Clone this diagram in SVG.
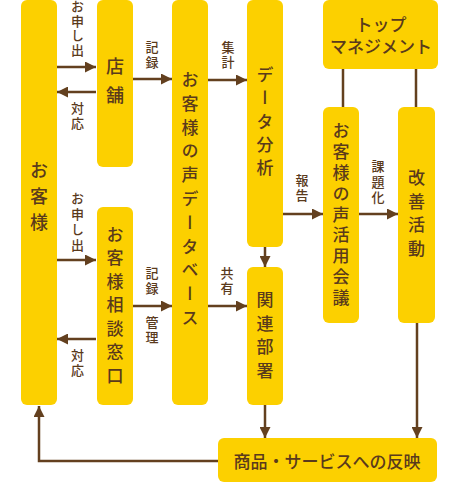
<svg xmlns="http://www.w3.org/2000/svg" width="459" height="483" viewBox="0 0 459 483">
<style>
.box{fill:#FCD000}
.nt{font-family:"Noto Sans CJK JP","Noto Sans CJK SC",sans-serif;font-size:17px;font-weight:500;fill:#5A3A1C}
.v{writing-mode:vertical-rl}
.lb{font-family:"Noto Sans CJK JP","Noto Sans CJK SC",sans-serif;font-size:13px;font-weight:500;fill:#5A3A1C;writing-mode:vertical-rl;letter-spacing:1.5px}
.c{fill:none;stroke:#63401F;stroke-width:2.5}
</style>
<defs>
<marker id="ah" viewBox="0 0 10 10" refX="10" refY="5" markerWidth="11" markerHeight="11" markerUnits="userSpaceOnUse" orient="auto">
<path d="M0,0 L10,5 L0,10 z" fill="#63401F"/>
</marker>
</defs>
<g id="connectors">
<path class="c" marker-end="url(#ah)" d="M57,67 H96"/>
<path class="c" marker-end="url(#ah)" d="M96,92 H57"/>
<path class="c" marker-end="url(#ah)" d="M133,79 H172"/>
<path class="c" marker-end="url(#ah)" d="M208,80 H247"/>
<path class="c" marker-end="url(#ah)" d="M283,214 H323"/>
<path class="c" marker-end="url(#ah)" d="M359,214 H398"/>
<path class="c" marker-end="url(#ah)" d="M57,260 H96"/>
<path class="c" marker-end="url(#ah)" d="M96,339 H57"/>
<path class="c" marker-end="url(#ah)" d="M133,306 H172"/>
<path class="c" marker-end="url(#ah)" d="M208,306 H247"/>
<path class="c" marker-end="url(#ah)" d="M265,247 V267"/>
<path class="c" marker-end="url(#ah)" d="M265,405 V438"/>
<path class="c" marker-end="url(#ah)" d="M417,323 V438"/>
<path class="c" marker-end="url(#ah)" d="M218,461 H39 V406"/>
<path class="c" d="M343,69 V107"/>
<path class="c" d="M416,69 V107"/>
<text class="lb" x="77.5" y="0">お申し出</text>
<text class="lb" x="77.5" y="102">対応</text>
<text class="lb" x="152" y="41">記録</text>
<text class="lb" x="228" y="41">集計</text>
<text class="lb" x="302" y="174">報告</text>
<text class="lb" x="378" y="160" style="letter-spacing:2.5px">課題化</text>
<text class="lb" x="77.5" y="192" style="letter-spacing:2.5px">お申し出</text>
<text class="lb" x="77.5" y="349">対応</text>
<text class="lb" x="152" y="267">記録</text>
<text class="lb" x="152" y="316">管理</text>
<text class="lb" x="227" y="267">共有</text>
</g>
<g id="customer">
<rect class="box" x="21" y="0" width="36" height="405" rx="6"/>
<text class="nt v" x="39" y="161" style="font-size:18px;letter-spacing:8px">お客様</text>
</g>
<g id="store">
<rect class="box" x="97" y="0" width="36" height="167" rx="6"/>
<text class="nt v" x="115" y="57" style="font-size:18px;letter-spacing:11px">店舗</text>
</g>
<g id="desk">
<rect class="box" x="97" y="207" width="36" height="198" rx="6"/>
<text class="nt v" x="115" y="226" style="letter-spacing:6.5px">お客様相談窓口</text>
</g>
<g id="database">
<rect class="box" x="172" y="0" width="36" height="405" rx="6"/>
<text class="nt v" x="190" y="71" style="letter-spacing:6.8px">お客様の声データベース</text>
</g>
<g id="analysis">
<rect class="box" x="247" y="0" width="36" height="247" rx="6"/>
<text class="nt v" x="265" y="66" style="letter-spacing:6.3px">データ分析</text>
</g>
<g id="dept">
<rect class="box" x="247" y="267" width="36" height="138" rx="6"/>
<text class="nt v" x="265" y="291" style="letter-spacing:6.7px">関連部署</text>
</g>
<g id="top">
<rect class="box" x="323" y="0" width="115" height="69" rx="6"/>
<text class="nt" x="381" y="31" text-anchor="middle">トップ</text>
<text class="nt" x="381" y="53" text-anchor="middle">マネジメント</text>
</g>
<g id="meeting">
<rect class="box" x="323" y="107" width="36" height="216" rx="6"/>
<text class="nt v" x="341" y="122" style="letter-spacing:3.9px">お客様の声活用会議</text>
</g>
<g id="improve">
<rect class="box" x="398" y="107" width="37" height="216" rx="6"/>
<text class="nt v" x="416.5" y="169" style="letter-spacing:6.7px">改善活動</text>
</g>
<g id="reflect">
<rect class="box" x="218" y="438" width="219" height="44" rx="6"/>
<text class="nt" x="327" y="468" text-anchor="middle">商品・サービスへの反映</text>
</g>
</svg>
